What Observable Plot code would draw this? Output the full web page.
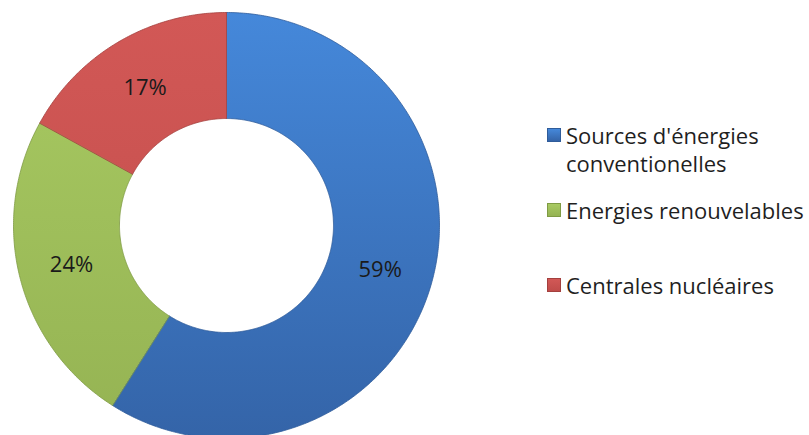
<!DOCTYPE html>
<html>
<head>
<meta charset="utf-8">
<script src="https://cdn.jsdelivr.net/npm/d3@7"></script>
<script src="https://cdn.jsdelivr.net/npm/@observablehq/plot@0.6"></script>
<style>
  html, body { margin: 0; padding: 0; background: #fff; }
  #wrap { position: relative; width: 809px; height: 435px; overflow: hidden; font-family: "Open Sans", Lato, sans-serif; }
  #chart { position: absolute; left: 0; top: 0; }
  .leg { position: absolute; left: 547px; display: flex; align-items: flex-start; font-size: 22px; line-height: 28px; color: #1f1f1f; white-space: nowrap; }
  .sw { width: 14px; height: 14px; margin-top: 7px; margin-right: 5px; flex: none; box-sizing: border-box; }
</style>
</head>
<body>
<div id="wrap"><div id="chart"></div></div>
<script>
// ---- data ----
const categories = ["Sources d'énergies conventionelles", "Energies renouvelables", "Centrales nucléaires"];
const legendLines = [["Sources d'énergies", "conventionelles"], ["Energies renouvelables"], ["Centrales nucléaires"]];
const shares = [59, 24, 17];
const labels = ["59%", "24%", "17%"];
const colorTop = ["#4588DA", "#A8CA62", "#D25856"];
const colorBottom = ["#3464A8", "#95B353", "#C04C4A"];
const colorEdge = ["#2F5C9A", "#7F9B44", "#A4403E"];
const legendTops = [121, 196, 271];

// ---- geometry from data ----
const innerRatio = 107 / 213;
const pie = d3.pie().sort(null).value(d => d).startAngle(0).endAngle(2 * Math.PI)(shares);
const slices = pie.map((p, i) => {
  const pts = [];
  const n = Math.max(8, Math.ceil((p.endAngle - p.startAngle) / 0.01));
  for (let k = 0; k <= n; k++) {
    const a = p.startAngle + (p.endAngle - p.startAngle) * k / n;
    pts.push({x: Math.sin(a), y: Math.cos(a), cat: categories[i]});
  }
  for (let k = n; k >= 0; k--) {
    const a = p.startAngle + (p.endAngle - p.startAngle) * k / n;
    pts.push({x: innerRatio * Math.sin(a), y: innerRatio * Math.cos(a), cat: categories[i]});
  }
  return pts;
});
const labelR = (1 + innerRatio) / 2;
const labelData = pie.map((p, i) => {
  const a = (p.startAngle + p.endAngle) / 2;
  return {x: labelR * Math.sin(a), y: labelR * Math.cos(a), text: labels[i]};
});

const defs = () => {
  const d = d3.create("svg:defs");
  categories.forEach((c, i) => {
    const g = d.append("linearGradient").attr("id", "g" + i)
      .attr("gradientUnits", "userSpaceOnUse")
      .attr("x1", 0).attr("x2", 0).attr("y1", 12).attr("y2", 438);
    g.append("stop").attr("offset", "0%").attr("stop-color", colorTop[i]);
    g.append("stop").attr("offset", "100%").attr("stop-color", colorBottom[i]);
  });
  return d.node();
};

const chart = Plot.plot({
  width: 809,
  height: 435,
  margin: 0,
  x: {domain: [-1, 1], range: [13, 439], axis: null},
  y: {domain: [-1, 1], range: [438, 12], axis: null},
  marks: [
    defs,
    ...slices.map((pts, i) => Plot.line(pts, {
      x: "x", y: "y", curve: "linear-closed",
      fill: `url(#g${i})`, stroke: colorEdge[i], strokeWidth: 0.8
    })),
    Plot.text(labelData, {
      x: "x", y: "y", text: "text", fontSize: 22, fill: "#1a1a1a",
      fontFamily: "'Open Sans', Lato, sans-serif"
    })
  ]
});
document.getElementById("chart").appendChild(chart);

// ---- legend ----
const wrap = document.getElementById("wrap");
categories.forEach((c, i) => {
  const item = document.createElement("div");
  item.className = "leg";
  item.style.top = legendTops[i] + "px";
  const sw = document.createElement("div");
  sw.className = "sw";
  sw.style.background = `linear-gradient(to bottom, ${colorTop[i]}, ${colorBottom[i]})`;
  sw.style.border = `1px solid ${colorEdge[i]}`;
  const tx = document.createElement("div");
  legendLines[i].forEach((s, k) => {
    if (k) tx.appendChild(document.createElement("br"));
    tx.appendChild(document.createTextNode(s));
  });
  item.appendChild(sw);
  item.appendChild(tx);
  wrap.appendChild(item);
});
</script>
</body>
</html>
